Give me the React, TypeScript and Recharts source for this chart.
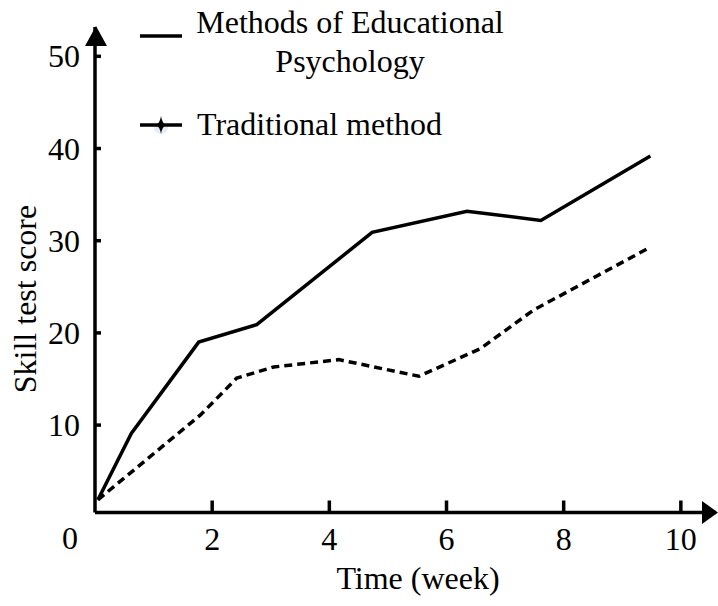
import React from "react";
import { LineChart, Line, XAxis, YAxis } from "recharts";

// weeks and scores
const eduWeeks = [0.05, 0.62, 1.77, 2.76, 4.73, 6.35, 7.61, 9.48];
const eduScores = [1.9, 9.1, 19.0, 20.9, 30.9, 33.2, 32.2, 39.2];

const tradWeeks = [0.05, 1.8, 2.42, 3.05, 4.16, 5.53, 6.58, 7.49, 9.48];
const tradScores = [1.9, 11.1, 15.1, 16.3, 17.1, 15.3, 18.3, 22.5, 29.3];

const xTicks = [0, 2, 4, 6, 8, 10];
const yTicks = [10, 20, 30, 40, 50];

const eduData = eduWeeks.map((x, i) => ({ x, y: eduScores[i] }));
const tradData = tradWeeks.map((x, i) => ({ x, y: tradScores[i] }));

const FONT = "'Liberation Serif', 'Times New Roman', serif";
const FS = 32;

const XTick = (props: any) => {
  const { x, y, payload } = props;
  const v = payload.value;
  if (v === 0) {
    return (
      <text x={x - 25} y={y + 36} textAnchor="middle" fontFamily={FONT} fontSize={FS} fill="#000">
        0
      </text>
    );
  }
  return (
    <g>
      <line x1={x} y1={y} x2={x} y2={y - 12} stroke="#000" strokeWidth={3.5} />
      <text x={x} y={y + 37} textAnchor="middle" fontFamily={FONT} fontSize={FS} fill="#000">
        {v}
      </text>
    </g>
  );
};

const YTick = (props: any) => {
  const { x, y, payload } = props;
  return (
    <g>
      <line x1={x} y1={y} x2={x + 6} y2={y} stroke="#000" strokeWidth={3.5} />
      <text x={x - 15} y={y + 11} textAnchor="end" fontFamily={FONT} fontSize={FS} fill="#000">
        {payload.value}
      </text>
    </g>
  );
};

export default function App() {
  return (
    <div style={{ position: "relative", width: 718, height: 606 }}>
      <style>{"body{margin:0}"}</style>
      <LineChart width={718} height={606} margin={{ top: 27, right: 2, bottom: 0, left: 0 }}>
        <XAxis
          type="number"
          dataKey="x"
          domain={[0, 10.6]}
          ticks={xTicks}
          height={93.5}
          tickSize={0}
          tickMargin={0}
          tickLine={false}
          axisLine={{ stroke: "#000", strokeWidth: 3.5 }}
          tick={<XTick />}
          interval={0}
        />
        <YAxis
          type="number"
          domain={[0.52, 53.18]}
          ticks={yTicks}
          width={95}
          tickSize={0}
          tickMargin={0}
          tickLine={false}
          axisLine={{ stroke: "#000", strokeWidth: 3.5 }}
          tick={<YTick />}
          interval={0}
        />
        <Line
          data={eduData}
          dataKey="y"
          name="Methods of Educational Psychology"
          type="linear"
          stroke="#000"
          strokeWidth={3.5}
          dot={false}
          isAnimationActive={false}
        />
        <Line
          data={tradData}
          dataKey="y"
          name="Traditional method"
          type="linear"
          stroke="#000"
          strokeWidth={3.5}
          strokeDasharray="8 5"
          dot={false}
          isAnimationActive={false}
        />
      </LineChart>
      <svg
        width={718}
        height={606}
        style={{ position: "absolute", left: 0, top: 0, pointerEvents: "none" }}
        fontFamily={FONT}
        fontSize={FS}
      >
        {/* axis arrows */}
        <polygon points="85,46 107,46 96,26" fill="#000" />
        <polygon points="702,501 702,524 718,512.5" fill="#000" />
        {/* axis titles */}
        <text x={25} y={299} transform="rotate(-90 25 299)" textAnchor="middle" dominantBaseline="central" fill="#000">
          Skill test score
        </text>
        <text x={418} y={589} textAnchor="middle" fill="#000">
          Time (week)
        </text>
        {/* legend */}
        <line x1={140} y1={36} x2={182} y2={36} stroke="#000" strokeWidth={3.5} />
        <text x={350} y={33} textAnchor="middle" fill="#000">
          Methods of Educational
        </text>
        <text x={350} y={72} textAnchor="middle" fill="#000">
          Psychology
        </text>
        <ellipse cx={161} cy={128} rx={7} ry={6} fill="#e4eef8" />
        <line x1={140} y1={125} x2={182} y2={125} stroke="#000" strokeWidth={3.5} />
        <path d="M161,116 Q162,123 166,125 Q162,127 161,134 Q160,127 156,125 Q160,123 161,116 Z" fill="#000" />
        <text x={197} y={135} fill="#000">
          Traditional method
        </text>
      </svg>
    </div>
  );
}
